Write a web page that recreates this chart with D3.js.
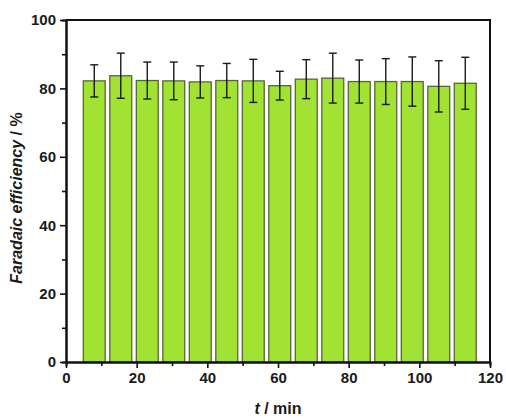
<!DOCTYPE html>
<html>
<head>
<meta charset="utf-8">
<script src="https://cdn.jsdelivr.net/npm/d3@7"></script>
<style>
  body { margin: 0; background: #fff; }
  text { font-family: "Liberation Sans", Arial, sans-serif; font-weight: bold; fill: #1a1a1a; }
</style>
</head>
<body>
<svg id="chart" width="506" height="418"></svg>
<script>
// time points (min), mean FE (%), error (%)
const times = [8, 15.5, 23, 30.5, 38, 45.5, 53, 60.5, 68, 75.5, 83, 90.5, 98, 105.5, 113]
const fe = [82.2, 83.7, 82.3, 82.2, 81.9, 82.3, 82.2, 80.8, 82.7, 83.0, 82.0, 82.0, 82.0, 80.6, 81.5]
const err = [4.7, 6.6, 5.4, 5.5, 4.7, 5.0, 6.3, 4.2, 5.7, 7.3, 6.3, 6.7, 7.2, 7.5, 7.6]
const xTicks = [0, 20, 40, 60, 80, 100, 120]
const yTicks = [0, 20, 40, 60, 80, 100]

let margins = {left: 66, right: 16, top: 20, bottom: 56}
let width = 506, height = 418

let svg = d3.select("#chart")

let x = d3.scaleLinear()
  .domain([0, 120])
  .range([margins.left, width - margins.right])
let y = d3.scaleLinear()
  .domain([0, 100])
  .range([height - margins.bottom, margins.top])

let barW = x(6.2) - x(0)

// bars
svg.append("g")
  .selectAll("rect")
  .data(times).enter()
  .append("rect")
  .attr("x", (d, i) => x(d) - barW / 2)
  .attr("y", (d, i) => y(fe[i]))
  .attr("width", barW)
  .attr("height", (d, i) => y(0) - y(fe[i]))
  .attr("fill", "#a2e233")
  .attr("stroke", "#55663a")
  .attr("stroke-width", 1.3)

// error bars
let eb = svg.append("g")
  .attr("stroke", "#1a1a1a")
  .attr("stroke-width", 1.4)
times.forEach((t, i) => {
  let cx = x(t)
  eb.append("line")
    .attr("x1", cx).attr("x2", cx)
    .attr("y1", y(fe[i] + err[i])).attr("y2", y(fe[i] - err[i]))
  eb.append("line")
    .attr("x1", cx - 4).attr("x2", cx + 4)
    .attr("y1", y(fe[i] + err[i])).attr("y2", y(fe[i] + err[i]))
  eb.append("line")
    .attr("x1", cx - 4).attr("x2", cx + 4)
    .attr("y1", y(fe[i] - err[i])).attr("y2", y(fe[i] - err[i]))
})

// minor ticks
let xMinor = svg.append("g")
  .attr("transform", `translate(0,${y(0)})`)
  .call(d3.axisBottom(x).tickValues(d3.range(10, 120, 20)).tickSize(4).tickFormat(""))
let yMinor = svg.append("g")
  .attr("transform", `translate(${x(0)},0)`)
  .call(d3.axisLeft(y).tickValues(d3.range(10, 100, 20)).tickSize(4).tickFormat(""))

// major axes
let xAxis = svg.append("g")
  .attr("transform", `translate(0,${y(0)})`)
  .call(d3.axisBottom(x).tickValues(xTicks).tickSize(6).tickPadding(4).tickSizeOuter(0))
let yAxis = svg.append("g")
  .attr("transform", `translate(${x(0)},0)`)
  .call(d3.axisLeft(y).tickValues(yTicks).tickSize(6).tickPadding(4).tickSizeOuter(0))

for (let g of [xMinor, yMinor, xAxis, yAxis]) {
  g.select(".domain").attr("stroke", "#111").attr("stroke-width", 2)
  g.selectAll(".tick line").attr("stroke", "#111").attr("stroke-width", 1.6)
  g.selectAll("text").attr("font-size", 15).style("font-family", "Liberation Sans, Arial, sans-serif").style("font-weight", "bold").attr("fill", "#1a1a1a")
}

// frame top/right
svg.append("path")
  .attr("d", `M${x(0)},${y(100)}H${x(120)}V${y(0)}`)
  .attr("fill", "none")
  .attr("stroke", "#111")
  .attr("stroke-width", 2)

// axis titles
let xt = svg.append("text")
  .attr("x", (x(0) + x(120)) / 2)
  .attr("y", 414)
  .attr("text-anchor", "middle")
  .attr("font-size", 16)
xt.append("tspan").attr("font-style", "italic").text("t")
xt.append("tspan").text(" / min")

let yt = svg.append("text")
  .attr("transform", `translate(22,198)rotate(-90)`)
  .attr("text-anchor", "middle")
  .attr("font-size", 16)
yt.append("tspan").attr("font-style", "italic").text("Faradaic efficiency")
yt.append("tspan").text(" / %")
</script>
</body>
</html>
